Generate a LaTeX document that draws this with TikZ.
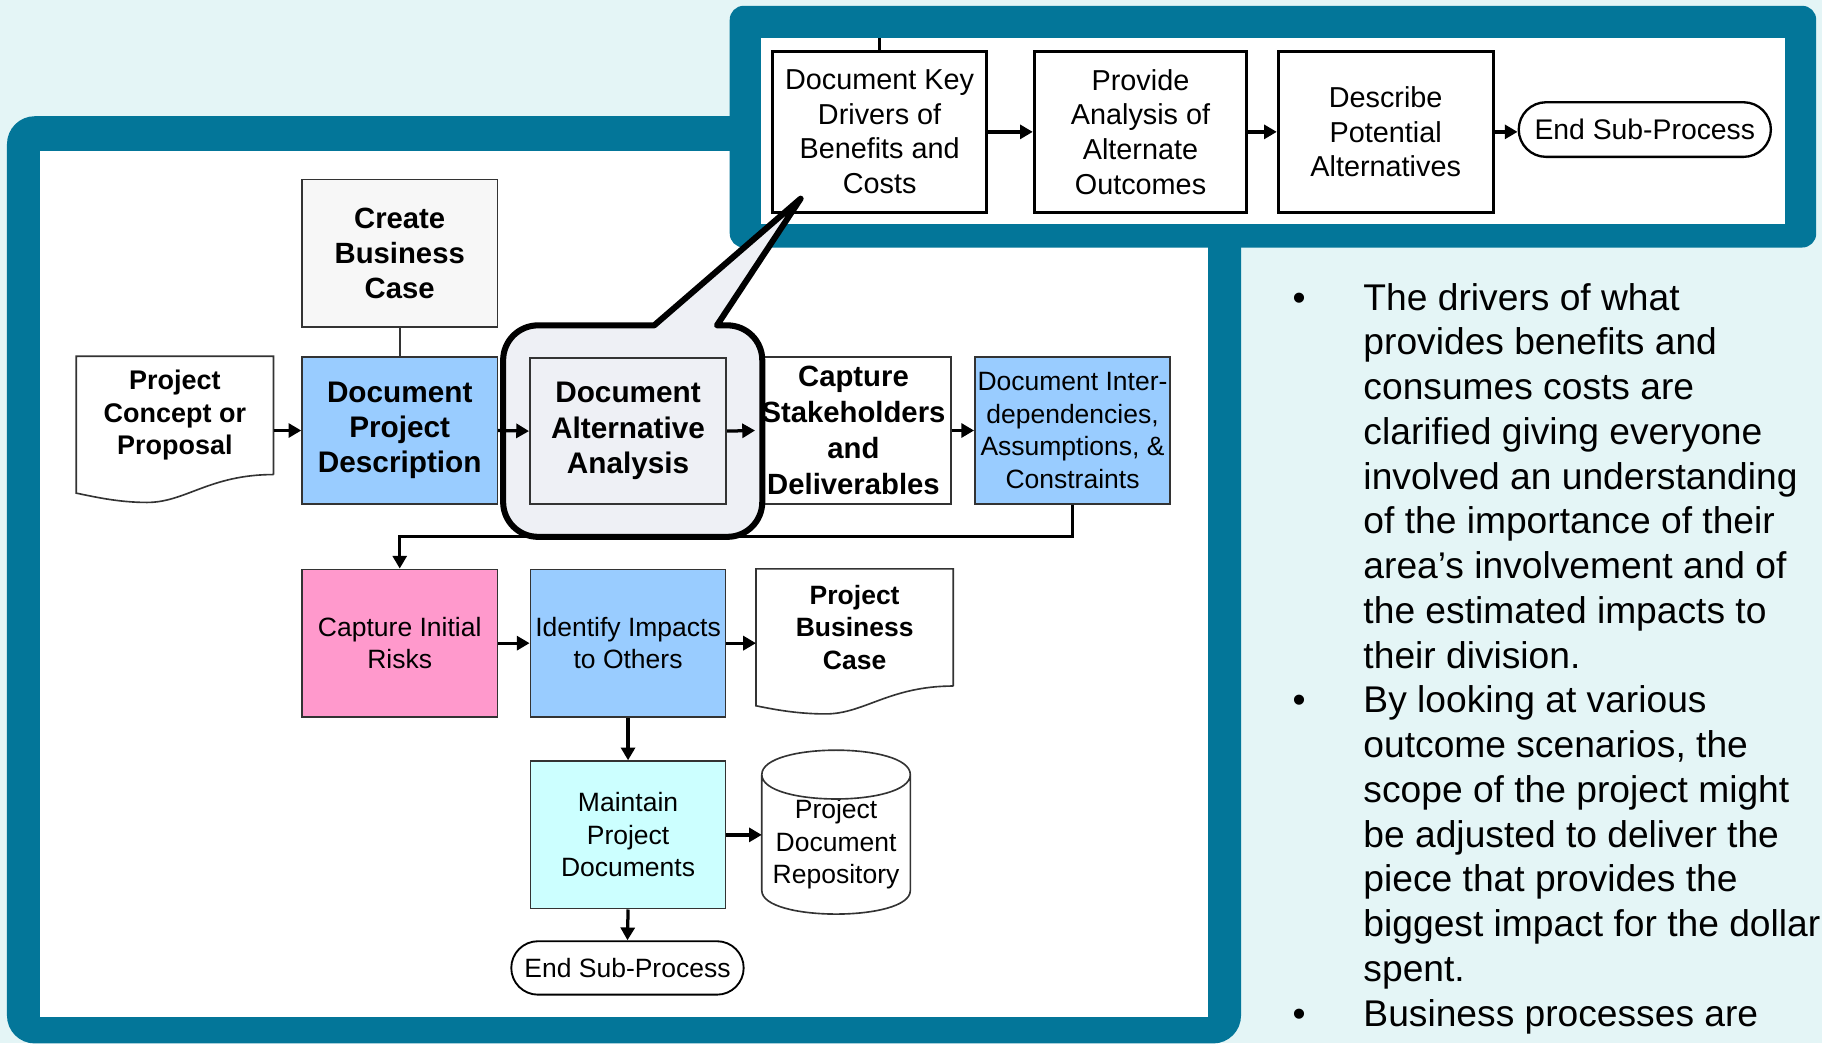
\documentclass[tikz,border=0pt]{standalone}
\usepackage{fontspec}
\setmainfont{Liberation Sans}
\usetikzlibrary{arrows.meta,calc}

\definecolor{frameteal}{RGB}{3,118,153}
\definecolor{paper}{RGB}{228,245,246}
\definecolor{calloutgray}{RGB}{238,240,245}
\definecolor{procblue}{RGB}{153,204,255}
\definecolor{procpink}{RGB}{255,153,204}
\definecolor{proccyan}{RGB}{204,255,255}
\definecolor{procgray}{RGB}{247,247,247}

\begin{document}
\begin{tikzpicture}[x=0.5pt,y=-0.5pt,
  proc/.style={draw=black!80, line width=0.7pt, align=center, inner sep=0pt,
    minimum width=84pt, minimum height=63.5pt},
  boldtxt/.style={font=\fontsize{12.6}{15.2}\selectfont\bfseries},
  plaintxt/.style={font=\fontsize{11.4}{14}\selectfont},
  subproc/.style={draw=black, line width=1.2pt, align=center, inner sep=0pt,
    minimum width=92pt, minimum height=69.5pt, fill=white,
    font=\fontsize{12.4}{14.9}\selectfont},
  terminal/.style={draw=black, line width=0.8pt, fill=white, inner sep=0pt},
  flow/.style={line width=1.4pt, -{Triangle[length=5.5pt,width=6pt]}},
  link/.style={line width=0.7pt, draw=black!80},
  note/.style={anchor=base west, inner sep=0pt, font=\fontsize{16}{19}\selectfont},
]
% page and background
\fill[paper] (0,0) rectangle (1568,898);
\useasboundingbox (0,0) rectangle (1568,898);
\clip (0,0) rectangle (1568,898);

% main frame
\fill[frameteal, rounded corners=12pt] (6,100) rectangle (1068,898);
\fill[white] (34,130) rectangle (1040,875);
% sub-process frame
\fill[frameteal, rounded corners=6pt] (628,5) rectangle (1563,213);
\fill[white] (655,33) rectangle (1536,193);

% ---------- main process ----------
\node[proc, boldtxt, fill=procgray] (cbc) at (344,218) {Create\\Business\\Case};

\node[align=center, inner sep=0pt, minimum width=84.5pt, minimum height=50.5pt,
      font=\fontsize{11.6}{14}\selectfont\bfseries] (pcp) at (150.5,357.5)
      {Project\\Concept or\\Proposal};
\draw[link] (pcp.south east) -- (pcp.north east) -- (pcp.north west)
  -- ($(pcp.south west)+(0,16)$) .. controls +(15,3) and +(-25,0) ..
  ($(pcp.south west)+(61,24)$) .. controls +(33,0) and +(-55,0) .. (pcp.south east);

\node[proc, boldtxt, fill=procblue, font=\fontsize{12.8}{15.2}\selectfont\bfseries]
  (dpd) at (344,370.5) {Document\\Project\\Description};
\node[proc, boldtxt, fill=white, font=\fontsize{12.6}{15.5}\selectfont\bfseries]
  (csd) at (734.5,370.5) {Capture\\Stakeholders\\and\\Deliverables};
\node[proc, plaintxt, fill=procblue] (did) at (923,370.5)
  {Document Inter-\\dependencies,\\Assumptions, \&\\Constraints};

\node[proc, plaintxt, fill=procpink] (cir) at (344,553.5) {Capture Initial\\Risks};
\node[proc, plaintxt, fill=procblue] (iio) at (540.5,553.5) {Identify Impacts\\to Others};

\node[align=center, inner sep=0pt, minimum width=84.5pt, minimum height=50pt,
      font=\fontsize{11.4}{14}\selectfont\bfseries] (pbc) at (735.5,540)
      {Project\\Business\\Case};
\draw[link] (pbc.south east) -- (pbc.north east) -- (pbc.north west)
  -- ($(pbc.south west)+(0,17)$) .. controls +(15,3) and +(-25,0) ..
  ($(pbc.south west)+(60,24)$) .. controls +(33,0) and +(-55,0) .. (pbc.south east);

\node[proc, plaintxt, fill=proccyan] (mpd) at (540.5,718.5)
  {Maintain\\Project\\Documents};

\node[plaintxt, align=center, inner sep=0pt, minimum width=63.5pt, minimum height=59.5pt]
  (repo) at (719.5,726.5) {Project\\Document\\Repository};
\draw[link] (repo.north west) -- ($(repo.south west)+(0,-20)$)
  .. controls +(0,27) and +(0,27) .. ($(repo.south east)+(0,-20)$)
  -- (repo.north east)
  .. controls +(0,-28) and +(0,-28) .. (repo.north west)
  .. controls +(0,28) and +(0,28) .. (repo.north east);

\node[terminal, rounded corners=11.5pt, minimum width=100pt, minimum height=23pt,
      font=\fontsize{11.4}{14}\selectfont] (endA) at (540,833) {End Sub-Process};

% connectors of the main process
\draw[link] (cbc.south) -- (dpd.north);
\draw[flow] (pcp.east |- dpd.west) -- (dpd.west);
\draw[flow] (csd.east) -- (did.west);
\draw[flow] (did.south) -- ++(0,27) -| (cir.north);
\draw[flow] (cir.east) -- (iio.west);
\draw[flow] (iio.east) -- (iio.east -| pbc.west);
\draw[flow] (iio.south) -- (mpd.north);
\draw[flow] (mpd.east) -- (mpd.east -| repo.west);
\draw[flow] (mpd.south) -- (endA.north);

% ---------- sub-process ----------
\node[subproc] (dkd) at (757,113.5) {Document Key\\Drivers of\\Benefits and\\Costs};
\node[subproc, minimum width=91.5pt] (paa) at (981.5,113.5)
  {Provide\\Analysis of\\Alternate\\Outcomes};
\node[subproc, minimum width=92.5pt] (dpa) at (1192.5,113.5)
  {Describe\\Potential\\Alternatives};
\node[terminal, line width=1pt, rounded corners=11.75pt, minimum width=108.5pt,
      minimum height=23.5pt, font=\fontsize{12.2}{14}\selectfont]
  (endB) at (1415.5,111.5) {End Sub-Process};
\coordinate (feed) at (757,33);
\draw[line width=1pt] (feed) -- (dkd.north);
\draw[flow] (dkd.east) -- (paa.west);
\draw[flow] (paa.east) -- (dpa.west);
\draw[flow] (dpa.east) -- (dpa.east -| endB.west);

% ---------- callout around the expanded step ----------
\draw[line width=2.6pt, fill=calloutgray, line join=round]
  (617,280) -- (626,280) .. controls (642.6,280) and (656,293.4) .. (656,310)
  -- (656,432) .. controls (656,448.6) and (642.6,462) .. (626,462)
  -- (463,462) .. controls (446.4,462) and (433,448.6) .. (433,432)
  -- (433,310) .. controls (433,293.4) and (446.4,280) .. (463,280)
  -- (563,280) -- (689,171) -- cycle;

\node[proc, boldtxt, fill=calloutgray, minimum width=84.5pt, minimum height=63pt,
      font=\fontsize{12.8}{15.2}\selectfont\bfseries]
  (daa) at (540.5,371) {Document\\Alternative\\Analysis};
\draw[flow] (dpd.east) -- (daa.west);
\draw[flow] (daa.east) -- (csd.west);

% ---------- notes ----------
\foreach \t [count=\i from 0] in {
  The drivers of what, provides benefits and, consumes costs are,
  clarified giving everyone, involved an understanding,
  of the importance of their, area’s involvement and of,
  the estimated impacts to, their division., By looking at various,
  {outcome scenarios, the}, scope of the project might,
  be adjusted to deliver the, piece that provides the,
  biggest impact for the dollar, spent., Business processes are}
  \node[note] (line\i) at (1173,267+38.5*\i) {\t};
\node[note, anchor=base] (bulA) at (1118,267) {•};
\node[note, anchor=base] (bulB) at (1118,267+38.5*9) {•};
\node[note, anchor=base] (bulC) at (1118,267+38.5*16) {•};
\end{tikzpicture}
\end{document}
